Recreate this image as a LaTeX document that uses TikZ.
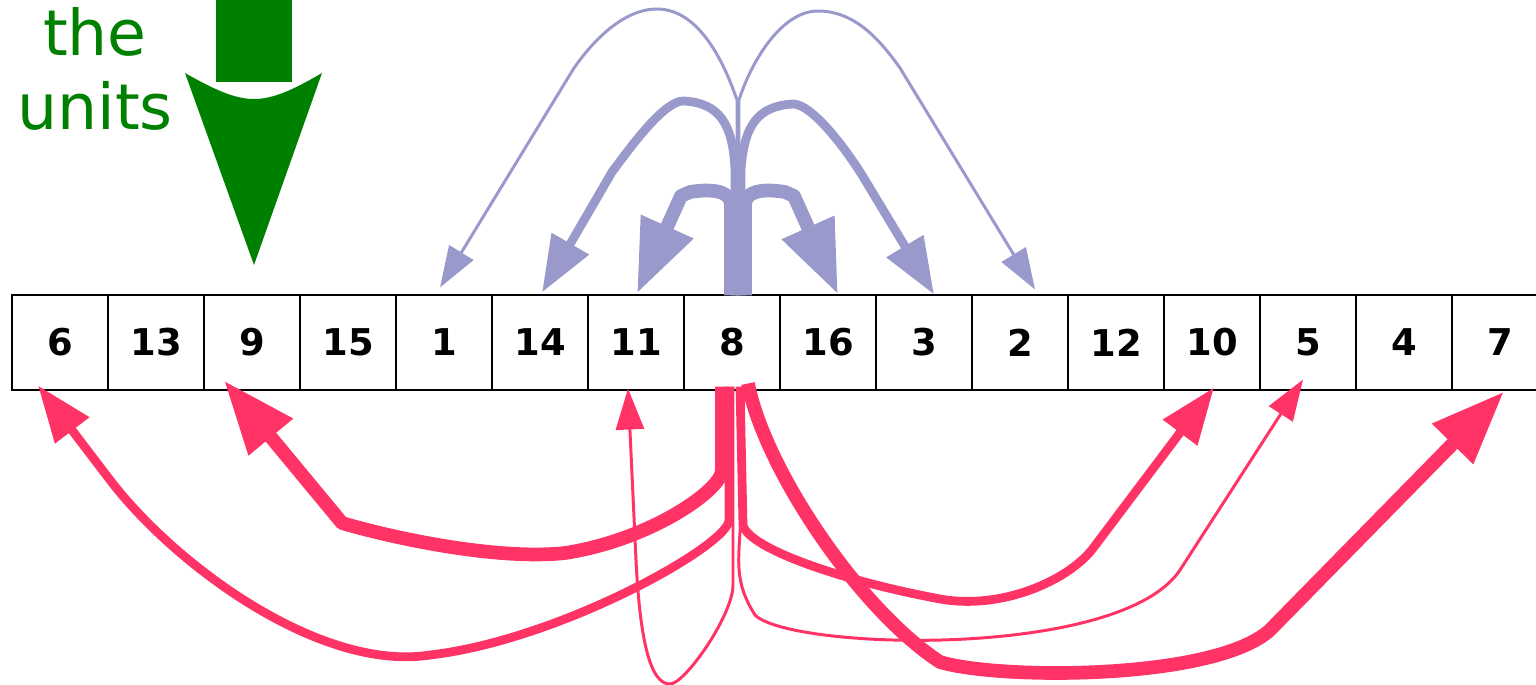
\documentclass[tikz,border=0pt]{standalone}
\usepackage{fontspec}
\setmainfont{DejaVu Sans}
\usetikzlibrary{arrows.meta,calc}

\definecolor{unitgreen}{RGB}{0,128,0}
\definecolor{upflow}{RGB}{153,153,204}
\definecolor{downflow}{RGB}{255,51,102}

\tikzset{
  cell/.style={draw, line width=0.6pt, minimum width=1.92cm, minimum height=1.9cm,
    inner sep=0pt, font=\bfseries\fontsize{21}{25}\selectfont},
  unitlabel/.style={text=unitgreen, inner sep=0pt, font=\fontsize{36}{43}\selectfont},
  upline/.style={draw=upflow, line join=round},
  downline/.style={draw=downflow, line join=round},
  wfine/.style={line width=1.7pt},
  wmid/.style={line width=5pt},
  wheavy/.style={line width=7.8pt},
  tipsmall/.style={-{Triangle[length=0.82cm,width=0.56cm]}},
  tipmid/.style={-{Triangle[length=1.13cm,width=0.82cm]}},
  tipbig/.style={-{Triangle[length=1.47cm,width=1.08cm]}}
}

\begin{document}
\begin{tikzpicture}[x=0.02cm, y=-0.02cm]
    \clip (0,0) rectangle (1536,684);

    % Draw the row of cells
    \foreach \v [count=\i] in {6,13,9,15,1,14,11,8,16,3,2,12,10,5,4,7}
        \node[cell] (n\v) at ({60+96*(\i-1)},342.5) {\v};

    % Draw label and big arrow
    \node[unitlabel, anchor=base] (the) at (95,55) {the};
    \node[unitlabel, anchor=base] (units) at (95,129) {units};
    \fill[unitgreen] (216,0) rectangle (292,82);
    \fill[unitgreen] (185,73) .. controls (215,90) and (235,99) .. (254,99)
        .. controls (273,99) and (293,90) .. (322,73) -- (254,265) -- cycle;

    % Draw upper arrows out of cell 8
    \draw[upline, wfine, tipsmall] ($(n8.north)+(5,1)$) -- (737,100)
        .. controls (725,65) and (700,9) .. (657,9)
        .. controls (625,9) and (595,38) .. (574,68) -- ($(n1.north)+(-4,-7)$);
    \draw[upline, wfine, tipsmall] ($(n8.north)+(7,1)$) -- (739,100)
        .. controls (750,65) and (780,11) .. (818,11)
        .. controls (855,11) and (880,40) .. (900,68) -- ($(n2.north)+(15,-5)$);
    \draw[upline, wmid, tipmid] ($(n8.north)+(3,1)$) -- (735,170)
        .. controls (733,122) and (718,103) .. (684,101)
        .. controls (665,100) and (632,145) .. (612,172) -- ($(n14.north)+(2,-2)$);
    \draw[upline, wmid, tipmid] ($(n8.north)+(9,1)$) -- (741,170)
        .. controls (744,125) and (758,106) .. (793,104)
        .. controls (812,104) and (845,148) .. (862,175) -- ($(n3.north)+(10,0)$);
    \draw[upline, wheavy, tipbig] ($(n8.north)+(-1,1)$) -- (731,205)
        .. controls (731,192) and (715,188) .. (690,192) -- (681,196) -- ($(n11.north)+(1,-1)$);
    \draw[upline, wheavy, tipbig] ($(n8.north)+(13,1)$) -- (745,205)
        .. controls (745,192) and (760,188) .. (785,192) -- (794,196) -- ($(n16.north)+(10,0)$);

    % Draw lower arrows out of cell 8
    \draw[downline, wheavy, tipbig] ($(n8.south)+(-10,-4)$) -- (722,470)
        .. controls (722,490) and (650,540) .. (565,553)
        .. controls (500,560) and (400,540) .. (342,523) -- ($(n9.south)+(-28,-10)$);
    \draw[downline, wmid, tipmid] ($(n8.south)+(-3,-4)$) -- (729,520)
        .. controls (729,545) and (560,640) .. (430,655)
        .. controls (320,672) and (175,565) .. (110,480) -- ($(n6.south)+(-22,-5)$);
    \draw[downline, wfine, tipsmall] ($(n8.south)+(1,-4)$) -- (733,585)
        .. controls (733,615) and (685,684) .. (670,684)
        .. controls (650,684) and (640,640) .. (636,560) -- ($(n11.south)+(-8,-2)$);
    \draw[downline, wmid, tipmid] ($(n8.south)+(8,-4)$) -- (743,525)
        .. controls (748,548) and (840,580) .. (935,598)
        .. controls (1000,612) and (1070,580) .. (1094,547) -- ($(n10.south)+(2,-3)$);
    \draw[downline, wfine, tipsmall] ($(n8.south)+(12,-4)$) -- (741,515)
        .. controls (739,560) and (733,580) .. (755,615)
        .. controls (790,650) and (1120,660) .. (1180,570) -- ($(n5.south)+(-5,-11)$);
    \draw[downline, wheavy, tipbig] ($(n8.south)+(16,-7)$)
        .. controls (765,470) and (860,610) .. (940,662)
        .. controls (1000,680) and (1215,680) .. (1270,630) -- ($(n7.south)+(4,1)$);
\end{tikzpicture}
\end{document}
